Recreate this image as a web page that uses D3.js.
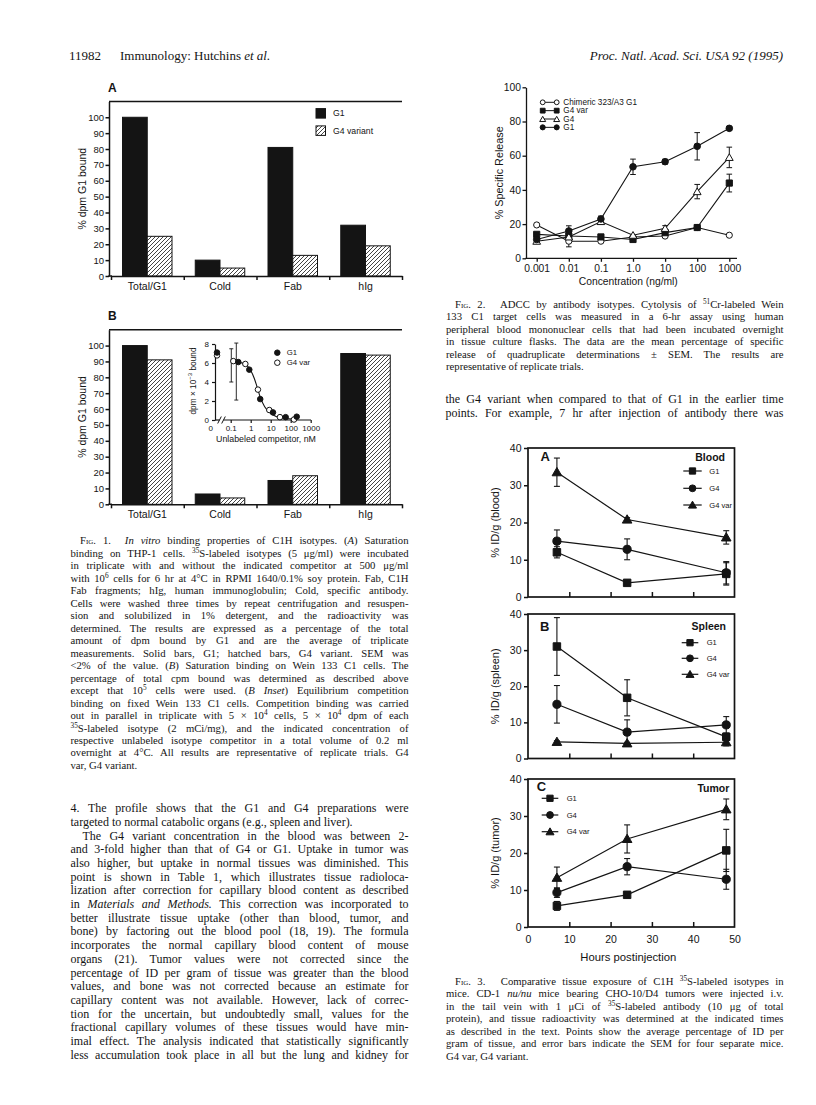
<!DOCTYPE html>
<html>
<head>
<meta charset="utf-8">
<title>Hutchins et al. (1995) p. 11982</title>
<script src="https://cdn.jsdelivr.net/npm/d3@7"></script>
<style>
  body { margin: 0; background: #fff; }
  #page { position: relative; width: 816px; height: 1105px; overflow: hidden; background: #fff; }
  #page svg { position: absolute; left: 0; top: 0; }
  .ln { position: absolute; white-space: nowrap; font-family: "Liberation Serif", "Times New Roman", serif; color: #141414; }
  .sc { font-variant: small-caps; }
  sup { font-size: 0.68em; line-height: 0; vertical-align: 0.5em; }
</style>
</head>
<body>
<div id="page"></div>
<script>
// ---- Fig. 1: % dpm G1 bound ----
const fig1Categories = ['Total/G1', 'Cold', 'Fab', 'hIg'];
const fig1Series = ['G1', 'G4 variant'];
const fig1aG1 = [100, 10, 81, 32];
const fig1aG4var = [25, 5, 13, 19];
const fig1bG1 = [100, 6.5, 15, 95];
const fig1bG4var = [91, 4, 18, 94];
const fig1YTicks = [0, 10, 20, 30, 40, 50, 60, 70, 80, 90, 100];

// ---- Fig. 1B inset: dpm x 10^-3 bound vs unlabeled competitor (nM) ----
const insetG1Conc = [0, 0.24, 0.85, 3, 13, 56, 200];
const insetG1Bound = [7.1, 6.1, 5.3, 2.2, 0.8, 0.3, 0.35];
const insetG1Low = [null, 2.1, null, null, null, null, null];
const insetG1High = [null, 8.1, null, null, null, null, null];
const insetG4Conc = [0, 0.135, 0.54, 2.3, 8.5, 29, 146];
const insetG4Bound = [6.8, 6.2, 5.9, 3.2, 1.05, 0.3, 0.05];
const insetG4Low = [null, 4.0, null, null, null, null, null];
const insetG4High = [null, 7.5, null, null, null, null, null];
const insetFitConc = [0.13, 0.3, 0.6, 1, 1.5, 2, 3, 5, 10, 20, 50, 150];
const insetFitBound = [6.2, 6.05, 5.8, 5.2, 4.4, 3.6, 2.4, 1.4, 0.7, 0.35, 0.15, 0.1];
const insetXTicks = [0.1, 1, 10, 100, 1000];
const insetYTicks = [0, 2, 4, 6, 8];

// ---- Fig. 2: ADCC, % specific release vs concentration (ng/ml) ----
const fig2Conc = [0.001, 0.01, 0.1, 1, 10, 100, 1000];
const fig2XLabels = ['0.001', '0.01', '0.1', '1.0', '10', '100', '1000'];
const fig2YTicks = [0, 20, 40, 60, 80, 100];
const fig2Chimeric = [19.5, 10, 10, 12.5, 13, 18, 13.5];
const fig2G4var = [14, 13, 12.5, 11, 15, 18, 44];
const fig2G4 = [10, 12.5, 21.5, 13.5, 17.5, 39, 59];
const fig2G1 = [11, 16, 23, 53.5, 56.5, 65.5, 76];
const fig2ChimericErr = [0, 3.3, 0, 0, 0, 0, 0];
const fig2G4varErr = [0, 0, 0, 0, 0, 0, 5.2];
const fig2G4Err = [0, 0, 1.5, 0, 1.6, 4.2, 6];
const fig2G1Err = [0, 3, 1.7, 4.5, 1.4, 8, 1];

// ---- Fig. 3: % ID/g vs hours postinjection ----
const fig3Hours = [7, 24, 48];
const fig3XTicks = [0, 10, 20, 30, 40, 50];
const fig3YTicks = [0, 10, 20, 30, 40];
const bloodG1 = [12, 3.8, 6.2];
const bloodG1Err = [1.5, 0.3, 3];
const bloodG4 = [15, 12.8, 6.5];
const bloodG4Err = [3, 2.8, 3];
const bloodG4var = [33.5, 20.8, 16];
const bloodG4varErr = [3.8, 0.5, 1.8];
const spleenG1 = [31, 16.8, 6];
const spleenG1Err = [8, 5, 1];
const spleenG4 = [15, 7.3, 9.3];
const spleenG4Err = [5.2, 3.4, 2.3];
const spleenG4var = [4.6, 4.2, 4.5];
const spleenG4varErr = [0.3, 0.3, 1];
const tumorG1 = [5.7, 8.7, 20.7];
const tumorG1Err = [1.2, 0.8, 5.7];
const tumorG4 = [9.3, 16.3, 12.9];
const tumorG4Err = [1.3, 2.2, 2.7];
const tumorG4var = [13.3, 23.8, 31.8];
const tumorG4varErr = [2.9, 3.8, 2.8];

const INK = '#141414';
const SANS = '"Liberation Sans", Arial, Helvetica, sans-serif';
const SERIF = '"Liberation Serif", "Times New Roman", serif';

const page = d3.select('#page');
const svg = page.append('svg').attr('width', 816).attr('height', 1105);

const defs = svg.append('defs');
const hatch = defs.append('pattern').attr('id', 'hatch')
    .attr('patternUnits', 'userSpaceOnUse').attr('width', 4).attr('height', 4);
hatch.append('rect').attr('width', 4).attr('height', 4).attr('fill', '#fff');
hatch.append('path').attr('d', 'M-1,1 L1,-1 M0,4 L4,0 M3,5 L5,3')
    .attr('stroke', INK).attr('stroke-width', 0.8);

function styleAxis(sel, fontSize, lineW) {
    sel.attr('font-family', SANS).attr('font-size', fontSize);
    sel.selectAll('.domain').attr('stroke', INK).attr('stroke-width', lineW);
    sel.selectAll('.tick line').attr('stroke', INK).attr('stroke-width', lineW);
    sel.selectAll('.tick text').attr('fill', INK);
}

function label(x, y, txt, size, opts = {}) {
    const t = svg.append('text')
        .attr('x', x).attr('y', y)
        .attr('font-family', opts.family || SANS)
        .attr('font-size', size)
        .attr('fill', INK)
        .attr('dominant-baseline', 'central')
        .attr('text-anchor', opts.anchor || 'start')
        .text(txt);
    if (opts.bold) t.attr('font-weight', 'bold');
    if (opts.italic) t.attr('font-style', 'italic');
    if (opts.rotate) t.attr('transform', `rotate(-90,${x},${y})`);
    return t;
}

const SYMBOLS = { circle: d3.symbolCircle, square: d3.symbolSquare, triangle: d3.symbolTriangle };
function marker(g, shape, filled, x, y, area) {
    const yy = shape === 'triangle' ? y + 0.8 : y;
    g.append('path')
        .attr('d', d3.symbol(SYMBOLS[shape], area)())
        .attr('transform', `translate(${x},${yy})`)
        .attr('fill', filled ? INK : '#fff')
        .attr('stroke', INK).attr('stroke-width', 1);
}

function errBar(g, x, yLo, yHi, cap, w) {
    g.append('line').attr('x1', x).attr('x2', x).attr('y1', yLo).attr('y2', yHi)
        .attr('stroke', INK).attr('stroke-width', w);
    [yLo, yHi].forEach(yy => g.append('line')
        .attr('x1', x - cap).attr('x2', x + cap).attr('y1', yy).attr('y2', yy)
        .attr('stroke', INK).attr('stroke-width', w));
}

// ================= Fig. 1 A/B bar panels =================
function barPanel(g1Vals, g4Vals, yZero, letter, withLegend) {
    const g = svg.append('g');
    const x = d3.scaleBand().domain(fig1Categories).range([111, 402]);
    const xSeries = d3.scaleBand().domain(fig1Series).range([11.5, 61]);
    const y = d3.scaleLinear().domain([0, 110]).range([yZero, yZero - 174.6]);
    const vals = [g1Vals, g4Vals];

    fig1Series.forEach((s, j) => {
        g.selectAll(null).data(fig1Categories).enter().append('rect')
            .attr('x', c => x(c) + xSeries(s))
            .attr('y', (c, i) => y(vals[j][i]))
            .attr('width', xSeries.bandwidth())
            .attr('height', (c, i) => y(0) - y(vals[j][i]))
            .attr('fill', j === 0 ? INK : 'url(#hatch)')
            .attr('stroke', INK).attr('stroke-width', 1);
    });

    // top frame line
    g.append('line').attr('x1', 109).attr('x2', 402).attr('y1', y(110)).attr('y2', y(110))
        .attr('stroke', INK).attr('stroke-width', 1.5);

    const ya = g.append('g').attr('transform', 'translate(109,0)')
        .call(d3.axisLeft(y).tickValues(fig1YTicks).tickSize(3.5).tickSizeOuter(0).tickPadding(1.5));
    styleAxis(ya, 9.5, 1.5);

    // bottom axis: ticks at category edges, labels at centres
    const xEdge = d3.scaleLinear().domain([0, fig1Categories.length]).range(x.range());
    const xa = g.append('g').attr('transform', `translate(0,${yZero})`)
        .call(d3.axisBottom(xEdge).tickValues(d3.range(fig1Categories.length + 1))
            .tickFormat('').tickSize(4).tickSizeOuter(0));
    styleAxis(xa, 10, 1.5);
    g.append('line').attr('x1', 108.3).attr('x2', 112).attr('y1', yZero).attr('y2', yZero)
        .attr('stroke', INK).attr('stroke-width', 1.5);
    const xl = g.append('g').attr('transform', `translate(0,${yZero})`)
        .call(d3.axisBottom(x).tickSize(0).tickPadding(6.3));
    xl.select('.domain').remove();
    styleAxis(xl, 10.5, 1);

    label(81.7, y(55), '% dpm G1 bound', 10.5, { anchor: 'middle', rotate: true });
    label(108, yZero - 188, letter, 12, { bold: true });

    if (withLegend) {
        fig1Series.forEach((s, j) => {
            const ly = yZero - 162.7 + j * 17.3;
            g.append('rect').attr('x', 316).attr('y', ly - 4.7).attr('width', 9.5).attr('height', 9.5)
                .attr('fill', j === 0 ? INK : 'url(#hatch)').attr('stroke', INK).attr('stroke-width', 1);
            label(333, ly, s, 8.7);
        });
    }
}

barPanel(fig1aG1, fig1aG4var, 276, 'A', true);
barPanel(fig1bG1, fig1bG4var, 504.3, 'B', false);

// ---- inset ----
(function inset() {
    const g = svg.append('g');
    const x = d3.scaleLog().domain([0.1, 1000]).range([230.7, 310.7]);
    const y = d3.scaleLinear().domain([0, 8]).range([420, 344]);
    const xPos = c => (c === 0 ? 217 : x(c));

    const ya = g.append('g').attr('transform', 'translate(215,0)')
        .call(d3.axisLeft(y).tickValues(insetYTicks).tickSize(3).tickSizeOuter(0).tickPadding(3));
    styleAxis(ya, 8, 1.2);

    const xa = g.append('g').attr('transform', 'translate(0,420)')
        .call(d3.axisBottom(x).tickValues(insetXTicks).tickFormat(d3.format('~g'))
            .tickSize(3).tickSizeOuter(0).tickPadding(2));
    xa.select('.domain').remove();
    styleAxis(xa, 8, 1.2);
    // axis line with break
    g.append('line').attr('x1', 215).attr('x2', 219.5).attr('y1', 420).attr('y2', 420)
        .attr('stroke', INK).attr('stroke-width', 1.2);
    g.append('line').attr('x1', 223.5).attr('x2', 311).attr('y1', 420).attr('y2', 420)
        .attr('stroke', INK).attr('stroke-width', 1.2);
    [219.5, 223.5].forEach(bx => g.append('line')
        .attr('x1', bx - 1.8).attr('x2', bx + 1.8).attr('y1', 423.5).attr('y2', 416.5)
        .attr('stroke', INK).attr('stroke-width', 1));
    label(210.7, 428.5, '0', 8, { anchor: 'middle' });

    // fitted curve
    const fit = insetFitConc.map((c, i) => [x(c), y(insetFitBound[i])]);
    g.append('path').attr('d', d3.line().curve(d3.curveMonotoneX)(fit))
        .attr('fill', 'none').attr('stroke', INK).attr('stroke-width', 1.1);

    const sets = [
        { conc: insetG4Conc, val: insetG4Bound, lo: insetG4Low, hi: insetG4High, filled: false },
        { conc: insetG1Conc, val: insetG1Bound, lo: insetG1Low, hi: insetG1High, filled: true }
    ];
    sets.forEach(s => s.conc.forEach((c, i) => {
        if (s.lo[i] != null) errBar(g, xPos(c) - 2, y(s.lo[i]), y(s.hi[i]), 2, 0.9);
    }));
    sets.forEach(s => s.conc.forEach((c, i) => {
        marker(g, 'circle', s.filled, xPos(c), y(s.val[i]), 24);
    }));

    // legend
    marker(g, 'circle', true, 277.3, 352.7, 24);
    label(286.7, 352.7, 'G1', 7.8);
    marker(g, 'circle', false, 277.3, 362.7, 24);
    label(286.7, 362.7, 'G4 var', 7.8);

    label(266, 439.3, 'Unlabeled competitor, nM', 8.8, { anchor: 'middle' });
    const yl = svg.append('text')
        .attr('transform', 'translate(193.3,381) rotate(-90)')
        .attr('font-family', SANS).attr('font-size', 8.3).attr('fill', INK)
        .attr('text-anchor', 'middle').attr('dominant-baseline', 'central');
    yl.append('tspan').text('dpm \u00d7 10');
    yl.append('tspan').attr('font-size', 6).attr('dy', -3).text('\u22123');
    yl.append('tspan').attr('dy', 3).text(' bound');
})();

// ================= Fig. 2 =================
(function fig2() {
    const g = svg.append('g');
    const x = d3.scaleLog().domain([0.001, 1000]).range([536.7, 729.3]);
    const y = d3.scaleLinear().domain([0, 100]).range([258.3, 87.3]);

    const ya = g.append('g').attr('transform', 'translate(526,0)')
        .call(d3.axisLeft(y).tickValues(fig2YTicks).tickSize(3.5).tickSizeOuter(0).tickPadding(1.5));
    styleAxis(ya, 10.3, 1.3);
    const xa = g.append('g').attr('transform', 'translate(0,258.3)')
        .call(d3.axisBottom(x).tickValues(fig2Conc).tickFormat((d, i) => fig2XLabels[i])
            .tickSize(3.5).tickSizeOuter(0).tickPadding(3));
    xa.select('.domain').remove();
    styleAxis(xa, 10.3, 1.3);
    g.append('line').attr('x1', 525.4).attr('x2', 737).attr('y1', 258.3).attr('y2', 258.3)
        .attr('stroke', INK).attr('stroke-width', 1.3);

    label(628.3, 281.7, 'Concentration (ng/ml)', 10.3, { anchor: 'middle' });
    label(499, y(50), '% Specific Release', 10.8, { anchor: 'middle', rotate: true });

    const series = [
        { name: 'Chimeric 323/A3 G1', vals: fig2Chimeric, err: fig2ChimericErr, shape: 'circle', filled: false, area: 30 },
        { name: 'G4 var', vals: fig2G4var, err: fig2G4varErr, shape: 'square', filled: true, area: 38 },
        { name: 'G4', vals: fig2G4, err: fig2G4Err, shape: 'triangle', filled: false, area: 26 },
        { name: 'G1', vals: fig2G1, err: fig2G1Err, shape: 'circle', filled: true, area: 34 }
    ];
    const line = d3.line().x((d, i) => x(fig2Conc[i])).y(d => y(d));
    series.forEach(s => g.append('path').attr('d', line(s.vals))
        .attr('fill', 'none').attr('stroke', INK).attr('stroke-width', 1.1));
    series.forEach(s => s.vals.forEach((v, i) => {
        if (s.err[i] > 0) errBar(g, x(fig2Conc[i]), y(v - s.err[i]), y(v + s.err[i]), 2.8, 1);
    }));
    series.forEach(s => s.vals.forEach((v, i) => marker(g, s.shape, s.filled, x(fig2Conc[i]), y(v), s.area)));

    // legend
    series.forEach((s, k) => {
        const ly = 102.3 + k * 8.35;
        g.append('line').attr('x1', 542.7).attr('x2', 556.7).attr('y1', ly).attr('y2', ly)
            .attr('stroke', INK).attr('stroke-width', 1);
        marker(g, s.shape, s.filled, 542.7, ly, s.area * 0.6);
        marker(g, s.shape, s.filled, 556.7, ly, s.area * 0.6);
        label(563.3, ly, s.name, 8.2);
    });
})();

// ================= Fig. 3 =================
(function fig3() {
    const x = d3.scaleLinear().domain([0, 50]).range([528, 734.5]);
    const panels = [
        { top: 448, bottom: 597, letter: 'A', title: 'Blood', axis: '% ID/g (blood)',
          g1: bloodG1, g1e: bloodG1Err, g4: bloodG4, g4e: bloodG4Err, v: bloodG4var, ve: bloodG4varErr,
          leg: { titleX: 725, titleDy: 8.7, rowDy: [23, 40.3, 57], lx1: 683.3, lx2: 701.7, tx: 709.3 }, lx: 540.5, ldy: 8.7 },
        { top: 614, bottom: 758.5, letter: 'B', title: 'Spleen', axis: '% ID/g (spleen)',
          g1: spleenG1, g1e: spleenG1Err, g4: spleenG4, g4e: spleenG4Err, v: spleenG4var, ve: spleenG4varErr,
          leg: { titleX: 726, titleDy: 12, rowDy: [28.7, 44.3, 60.3], lx1: 681.7, lx2: 698.3, tx: 706.7 }, lx: 540, ldy: 12 },
        { top: 779, bottom: 927, letter: 'C', title: 'Tumor', axis: '% ID/g (tumor)',
          g1: tumorG1, g1e: tumorG1Err, g4: tumorG4, g4e: tumorG4Err, v: tumorG4var, ve: tumorG4varErr,
          leg: { titleX: 729.3, titleDy: 9, rowDy: [19.3, 36, 52.7], lx1: 541.7, lx2: 558.3, tx: 566.7 }, lx: 536.7, ldy: 7.7 }
    ];
    panels.forEach((p, pi) => {
        const g = svg.append('g');
        const y = d3.scaleLinear().domain([0, 40]).range([p.bottom, p.top]);
        g.append('rect').attr('x', x(0)).attr('y', p.top).attr('width', x(50) - x(0)).attr('height', p.bottom - p.top)
            .attr('fill', 'none').attr('stroke', INK).attr('stroke-width', 1.7);
        const ya = g.append('g').attr('transform', `translate(${x(0)},0)`)
            .call(d3.axisLeft(y).tickValues(fig3YTicks).tickSize(4).tickSizeOuter(0).tickPadding(2.5));
        ya.select('.domain').remove();
        styleAxis(ya, 10.5, 1.5);
        // inward ticks on the time axis
        const xt = g.append('g').attr('transform', `translate(0,${p.bottom})`)
            .call(d3.axisTop(x).tickValues(fig3XTicks.slice(1, -1)).tickFormat('').tickSize(5).tickSizeOuter(0));
        xt.select('.domain').remove();
        styleAxis(xt, 10, 1.5);
        if (pi === panels.length - 1) {
            const xl = g.append('g').attr('transform', `translate(0,${p.bottom})`)
                .call(d3.axisBottom(x).tickValues(fig3XTicks).tickSize(0).tickPadding(9));
            xl.select('.domain').remove();
            styleAxis(xl, 10.5, 1);
            label(628.3, 956.7, 'Hours postinjection', 11.3, { anchor: 'middle' });
        }
        label(495, (p.top + p.bottom) / 2, p.axis, 11, { anchor: 'middle', rotate: true });
        label(p.lx, p.top + p.ldy, p.letter, 13, { bold: true });
        label(p.leg.titleX, p.top + p.leg.titleDy, p.title, 10.5, { bold: true, anchor: 'end' });

        const series = [
            { name: 'G1', vals: p.g1, err: p.g1e, shape: 'square', area: 56 },
            { name: 'G4', vals: p.g4, err: p.g4e, shape: 'circle', area: 52 },
            { name: 'G4 var', vals: p.v, err: p.ve, shape: 'triangle', area: 40 }
        ];
        const line = d3.line().x((d, i) => x(fig3Hours[i])).y(d => y(d));
        series.forEach(s => g.append('path').attr('d', line(s.vals))
            .attr('fill', 'none').attr('stroke', INK).attr('stroke-width', 1.2));
        series.forEach(s => s.vals.forEach((v, i) => {
            if (s.err[i] > 0) errBar(g, x(fig3Hours[i]), y(v - s.err[i]), y(v + s.err[i]), 3, 1.1);
        }));
        series.forEach(s => s.vals.forEach((v, i) => marker(g, s.shape, true, x(fig3Hours[i]), y(v), s.area)));

        series.forEach((s, k) => {
            const ly = p.top + p.leg.rowDy[k];
            g.append('line').attr('x1', p.leg.lx1).attr('x2', p.leg.lx2).attr('y1', ly).attr('y2', ly)
                .attr('stroke', INK).attr('stroke-width', 1.2);
            marker(g, s.shape, true, (p.leg.lx1 + p.leg.lx2) / 2, ly, s.area * 0.7);
            label(p.leg.tx, ly, s.name, 7.6);
        });
    });
})();

// ================= running head =================
label(69, 55, '11982', 13, { family: SERIF });
const head = label(120, 55, 'Immunology: Hutchins ', 13, { family: SERIF });
head.append('tspan').attr('font-style', 'italic').text('et al.');
label(783, 55, 'Proc. Natl. Acad. Sci. USA 92 (1995)', 13, { family: SERIF, italic: true, anchor: 'end' });

// ================= text blocks =================
function addLines(lines, opt) {
    lines.forEach((ln, i) => {
        const item = typeof ln === 'string' ? { html: ln } : ln;
        const indent = item.indent || 0;
        const w = opt.width - indent;
        const div = page.append('div').attr('class', 'ln')
            .style('left', (opt.x + indent) + 'px')
            .style('top', (opt.y + i * opt.step - opt.step / 2) + 'px')
            .style('line-height', opt.step + 'px')
            .style('font-size', opt.size + 'px');
        const span = div.append('span').html(item.html);
        if (!item.last) {
            const natural = span.node().getBoundingClientRect().width;
            const spaces = (span.node().textContent.match(/ /g) || []).length;
            if (spaces) span.style('word-spacing', ((w - natural) / spaces) + 'px');
        }
    });
}

const fig1Caption = [
    { html: '<span class="sc" style="margin-right:7px">Fig. 1.</span> <i>In vitro</i> binding properties of C1H isotypes. (<i>A</i>) Saturation', indent: 9.5 },
    'binding on THP-1 cells. <sup>35</sup>S-labeled isotypes (5 \u03bcg/ml) were incubated',
    'in triplicate with and without the indicated competitor at 500 \u03bcg/ml',
    'with 10<sup>6</sup> cells for 6 hr at 4\u00b0C in RPMI 1640/0.1% soy protein. Fab, C1H',
    'Fab fragments; hIg, human immunoglobulin; Cold, specific antibody.',
    'Cells were washed three times by repeat centrifugation and resuspen-',
    'sion and solubilized in 1% detergent, and the radioactivity was',
    'determined. The results are expressed as a percentage of the total',
    'amount of dpm bound by G1 and are the average of triplicate',
    'measurements. Solid bars, G1; hatched bars, G4 variant. SEM was',
    '&lt;2% of the value. (<i>B</i>) Saturation binding on Wein 133 C1 cells. The',
    'percentage of total cpm bound was determined as described above',
    'except that 10<sup>5</sup> cells were used. (<i>B Inset</i>) Equilibrium competition',
    'binding on fixed Wein 133 C1 cells. Competition binding was carried',
    'out in parallel in triplicate with 5 \u00d7 10<sup>4</sup> cells, 5 \u00d7 10<sup>4</sup> dpm of each',
    '<sup>35</sup>S-labeled isotype (2 mCi/mg), and the indicated concentration of',
    'respective unlabeled isotype competitor in a total volume of 0.2 ml',
    'overnight at 4\u00b0C. All results are representative of replicate trials. G4',
    { html: 'var, G4 variant.', last: true }
];
addLines(fig1Caption, { x: 70.5, y: 540.7, step: 12.47, width: 338, size: 10.7 });

const leftBody = [
    '4. The profile shows that the G1 and G4 preparations were',
    { html: 'targeted to normal catabolic organs (e.g., spleen and liver).', last: true },
    { html: 'The G4 variant concentration in the blood was between 2-', indent: 12 },
    'and 3-fold higher than that of G4 or G1. Uptake in tumor was',
    'also higher, but uptake in normal tissues was diminished. This',
    'point is shown in Table 1, which illustrates tissue radioloca-',
    'lization after correction for capillary blood content as described',
    'in <i>Materials and Methods.</i> This correction was incorporated to',
    'better illustrate tissue uptake (other than blood, tumor, and',
    'bone) by factoring out the blood pool (18, 19). The formula',
    'incorporates the normal capillary blood content of mouse',
    'organs (21). Tumor values were not corrected since the',
    'percentage of ID per gram of tissue was greater than the blood',
    'values, and bone was not corrected because an estimate for',
    'capillary content was not available. However, lack of correc-',
    'tion for the uncertain, but undoubtedly small, values for the',
    'fractional capillary volumes of these tissues would have min-',
    'imal effect. The analysis indicated that statistically significantly',
    'less accumulation took place in all but the lung and kidney for'
];
addLines(leftBody, { x: 70.5, y: 809, step: 13.7, width: 338, size: 12 });

const fig2Caption = [
    { html: '<span class="sc" style="margin-right:9px">Fig. 2.</span> ADCC by antibody isotypes. Cytolysis of <sup>51</sup>Cr-labeled Wein', indent: 9 },
    '133 C1 target cells was measured in a 6-hr assay using human',
    'peripheral blood mononuclear cells that had been incubated overnight',
    'in tissue culture flasks. The data are the mean percentage of specific',
    'release of quadruplicate determinations \u00b1 SEM. The results are',
    { html: 'representative of replicate trials.', last: true }
];
addLines(fig2Caption, { x: 446, y: 304, step: 12.5, width: 337.5, size: 10.7 });

const rightBody = [
    'the G4 variant when compared to that of G1 in the earlier time',
    'points. For example, 7 hr after injection of antibody there was'
];
addLines(rightBody, { x: 445.5, y: 400, step: 13.5, width: 338, size: 12 });

const fig3Caption = [
    { html: '<span class="sc" style="margin-right:9px">Fig. 3.</span> Comparative tissue exposure of C1H <sup>35</sup>S-labeled isotypes in', indent: 9 },
    'mice. CD-1 <i>nu/nu</i> mice bearing CHO-10/D4 tumors were injected i.v.',
    'in the tail vein with 1 \u03bcCi of <sup>35</sup>S-labeled antibody (10 \u03bcg of total',
    'protein), and tissue radioactivity was determined at the indicated times',
    'as described in the text. Points show the average percentage of ID per',
    'gram of tissue, and error bars indicate the SEM for four separate mice.',
    { html: 'G4 var, G4 variant.', last: true }
];
addLines(fig3Caption, { x: 446, y: 981, step: 12.5, width: 337.5, size: 10.7 });
</script>
</body>
</html>
